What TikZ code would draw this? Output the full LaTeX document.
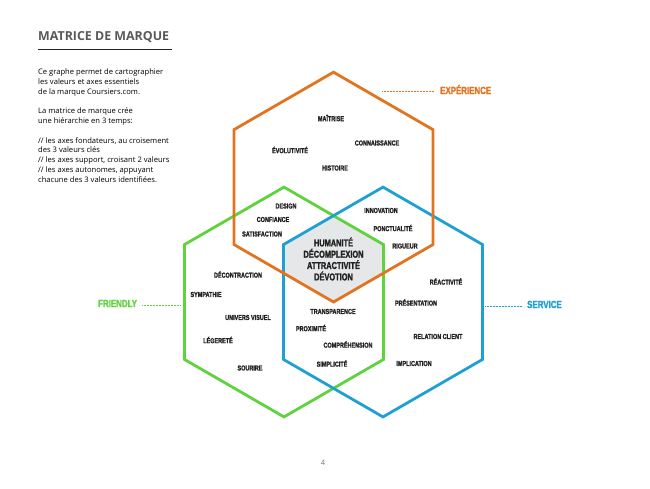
\documentclass[tikz,border=0pt]{standalone}
\usepackage{fontspec}
\setmainfont{Open Sans}
\newfontfamily\cond[FakeStretch=0.76,BoldFeatures={FakeBold=1.6}]{Liberation Sans}
\newfontfamily\condb[FakeStretch=0.74,BoldFeatures={FakeBold=1.8}]{Liberation Sans}
\definecolor{hexorange}{HTML}{E2731F}
\definecolor{hexgreen}{HTML}{5FD33E}
\definecolor{hexblue}{HTML}{1FA0D2}
\definecolor{graybg}{HTML}{E6E7E8}
\definecolor{titlegray}{HTML}{595959}
\definecolor{labeltxt}{HTML}{222222}
\begin{document}
\begin{tikzpicture}[x=1pt,y=-1pt,
  hexline/.style={line width=2.8pt,line join=miter},
  lbl/.style={font=\cond\bfseries\fontsize{7.2}{8}\selectfont,text=labeltxt,inner sep=0pt},
  core/.style={font=\condb\bfseries\fontsize{10}{11}\selectfont,text=labeltxt,inner sep=0pt,align=center},
  big/.style={font=\cond\bfseries\fontsize{10.4}{12}\selectfont,inner sep=0pt},
  leader/.style={line width=0.6pt,dash pattern=on 0.6pt off 0.9pt},
  body/.style={font=\fontsize{7.6}{9.8}\selectfont,text=black,inner sep=0pt,align=left,anchor=north west}]
\useasboundingbox (0,0) rectangle (650,488);
% title
\node[font=\bfseries\fontsize{12.4}{14}\selectfont,text=titlegray,anchor=base west,inner sep=0pt] (title) at (38,40.5) {MATRICE DE MARQUE};
\draw[line width=1pt,black!85] (38,49) -- (172,49);
\node[body] (intro) at (38,68.5) {Ce graphe permet de cartographier\\les valeurs et axes essentiels\\de la marque Coursiers.com.\\[9.8pt]La matrice de marque crée\\une hiérarchie en 3 temps:\\[9.8pt]// les axes fondateurs, au croisement\\des 3 valeurs clés\\// les axes support, croisant 2 valeurs\\// les axes autonomes, appuyant\\chacune des 3 valeurs identifiées.};
% central intersection
\fill[graybg] (283.5,244.6) -- (333.5,215.7) -- (383.5,244.6) -- (383.5,273.1) -- (333.5,302) -- (283.5,273.1) -- cycle;
% hexagons: w = 99.5, R = 114.9
\draw[hexline,hexgreen] (284,187.1) -- (383.5,244.55) -- (383.5,359.45) -- (284,416.9) -- (184.5,359.45) -- (184.5,244.55) -- cycle;
\draw[hexline,hexblue] (383,187.1) -- (482.5,244.55) -- (482.5,359.45) -- (383,416.9) -- (283.5,359.45) -- (283.5,244.55) -- cycle;
\draw[hexline,hexorange] (333.5,72.2) -- (433,129.65) -- (433,244.55) -- (333.5,302) -- (234,244.55) -- (234,129.65) -- cycle;
% core
\node[core] (h1) at (333.5,242) {HUMANITÉ};
\node[core] (h2) at (333.5,253.3) {DÉCOMPLEXION};
\node[core] (h3) at (333.5,264.6) {ATTRACTIVITÉ};
\node[core] (h4) at (333.5,276) {DÉVOTION};
% orange labels
\node[lbl] (o1) at (331,118) {MAÎTRISE};
\node[lbl] (o2) at (290,150) {ÉVOLUTIVITÉ};
\node[lbl] (o3) at (377,143) {CONNAISSANCE};
\node[lbl] (o4) at (335,168) {HISTOIRE};
% orange-green
\node[lbl] (og1) at (286,206) {DESIGN};
\node[lbl] (og2) at (273,219.5) {CONFIANCE};
\node[lbl] (og3) at (262,234) {SATISFACTION};
% orange-blue
\node[lbl] (ob1) at (381,210.5) {INNOVATION};
\node[lbl] (ob2) at (393,228) {PONCTUALITÉ};
\node[lbl] (ob3) at (405,246) {RIGUEUR};
% green
\node[lbl] (g1) at (238,274.5) {DÉCONTRACTION};
\node[lbl] (g2) at (206,294.5) {SYMPATHIE};
\node[lbl] (g3) at (248,317.5) {UNIVERS VISUEL};
\node[lbl] (g4) at (218,340) {LÉGERETÉ};
\node[lbl] (g5) at (250,368) {SOURIRE};
% green-blue
\node[lbl] (gb1) at (333,311.5) {TRANSPARENCE};
\node[lbl] (gb2) at (311,328) {PROXIMITÉ};
\node[lbl] (gb3) at (348,344.5) {COMPRÉHENSION};
\node[lbl] (gb4) at (332,363.5) {SIMPLICITÉ};
% blue
\node[lbl] (b1) at (446,281.5) {RÉACTIVITÉ};
\node[lbl] (b2) at (416,302.5) {PRÉSENTATION};
\node[lbl] (b3) at (438,336.5) {RELATION CLIENT};
\node[lbl] (b4) at (414,363.5) {IMPLICATION};
% outer labels
\node[big,text=hexorange,anchor=west] (exp) at (440,89.5) {EXPÉRIENCE};
\coordinate (expl) at (382,91);
\draw[leader,hexorange] (expl) -- ([xshift=-6pt]exp.west |- expl);
\node[big,text=hexgreen,anchor=west] (fr) at (98,303.5) {FRIENDLY};
\coordinate (frl) at (180,305);
\draw[leader,hexgreen] ([xshift=5pt]fr.east |- frl) -- (frl);
\node[big,text=hexblue,anchor=west] (sv) at (527,304.5) {SERVICE};
\coordinate (svl) at (485,306);
\draw[leader,hexblue] (svl) -- ([xshift=-5pt]sv.west |- svl);
% page number
\node[font=\fontsize{7.5}{9}\selectfont,text=black!55,inner sep=0pt] (pg) at (323,463) {4};
\end{tikzpicture}
\end{document}
